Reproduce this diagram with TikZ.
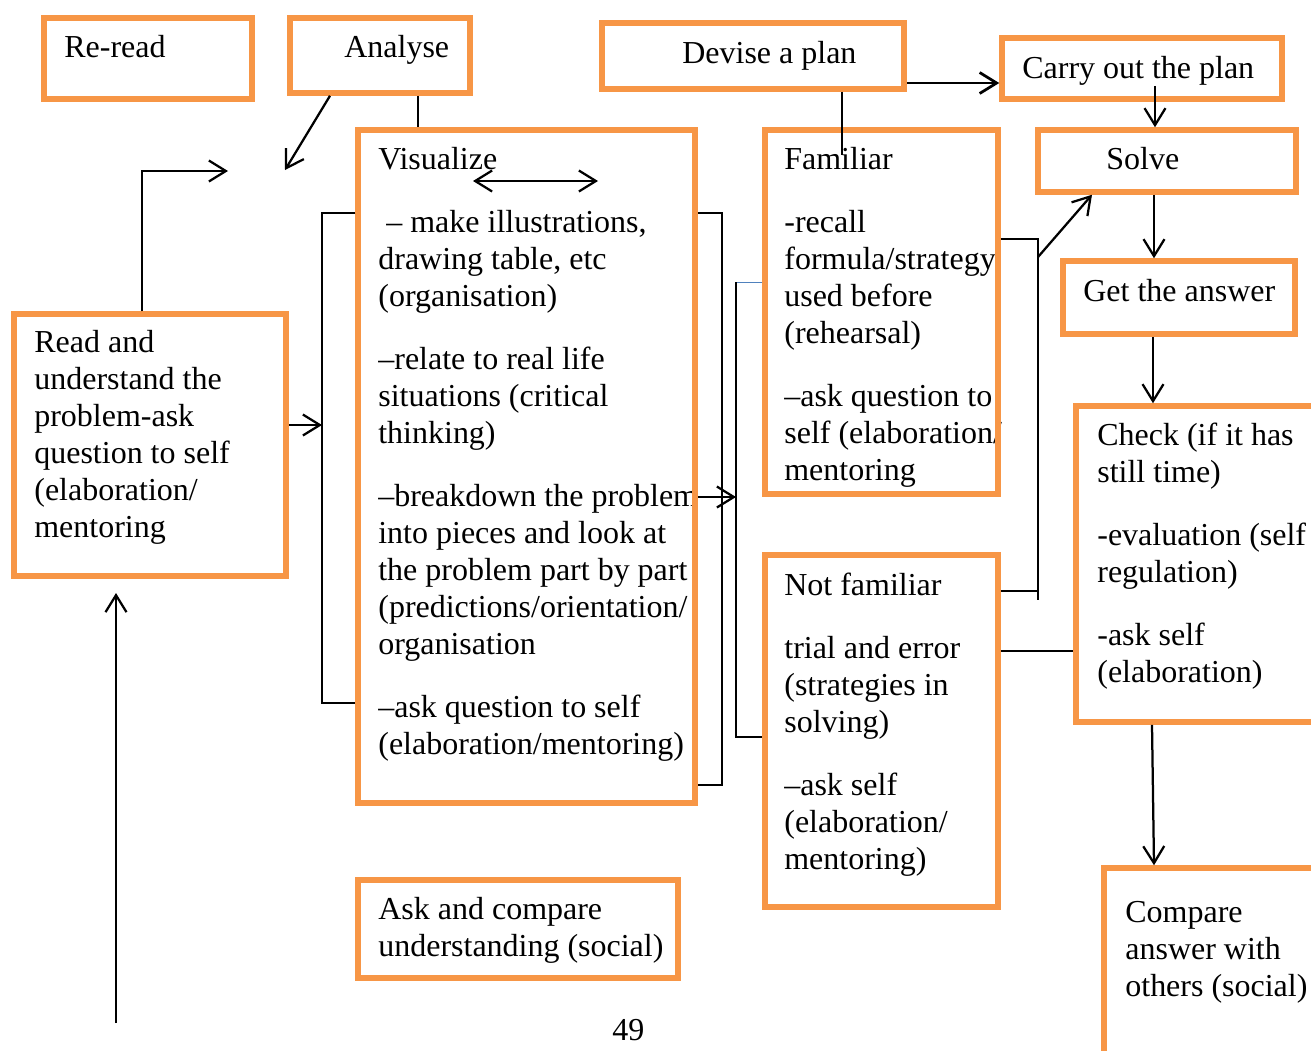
\documentclass[tikz,border=0pt]{standalone}
\usepackage{fontspec}
\setmainfont{Liberation Serif}
\usetikzlibrary{arrows.meta,fit}
\definecolor{boxorange}{HTML}{F79646}
\definecolor{linkblue}{HTML}{4F81BD}
\tikzset{
  box/.style={draw=boxorange,line width=1.1mm,inner sep=0pt},
  txt/.style={anchor=base west,align=left,inner sep=0pt},
  mtxt/.style={anchor=north west,align=left,inner sep=0pt},
  link/.style={line width=.3mm},
  arr/.style={line width=.45mm,-{Straight Barb[length=3.4mm,width=4.2mm]}},
  dblarr/.style={line width=.45mm,{Straight Barb[length=3.4mm,width=4.2mm]}-{Straight Barb[length=3.4mm,width=4.2mm]}},
}
\newcommand{\gap}{\\[0.52cm]}
\begin{document}
\begin{tikzpicture}[x=0.2mm,y=-0.2mm,font=\fontsize{18.2pt}{21.06pt}\selectfont]
\useasboundingbox (0,0) rectangle (1311,1050);
\clip (0,0) rectangle (1311,1050);

% texts
\node[txt] at (64,57) {Re-read};
\node[txt] at (344,57) {Analyse};
\node[txt] at (682,63) {Devise a plan};
\node[txt] at (1022,78) {Carry out the plan};
\node[txt] at (1106,169) {Solve};
\node[txt] at (1083,301) {Get the answer};
\node[mtxt] at (378,143) {\strut Visualize\gap
  ~– make illustrations,\\drawing table, etc\\(organisation)\gap
  –relate to real life\\situations (critical\\thinking)\gap
  –breakdown the problem\\into pieces and look at\\the problem part by part\\(predictions/orientation/\\organisation\gap
  –ask question to self\\(elaboration/mentoring)};
\node[mtxt] at (784,143) {\strut Familiar\gap
  -recall\\formula/strategy\\used before\\(rehearsal)\gap
  –ask question to\\self (elaboration/\\mentoring};
\node[mtxt] at (784,569) {\strut Not familiar\gap
  trial and error\\(strategies in\\solving)\gap
  –ask self\\(elaboration/\\mentoring)};
\node[mtxt] at (34,326) {\strut Read and\\understand the\\problem-ask\\question to self\\(elaboration/\\mentoring};
\node[mtxt] at (1097,419) {\strut Check (if it has\\still time)\gap
  -evaluation (self\\regulation)\gap
  -ask self\\(elaboration)};
\node[mtxt] at (378,893) {\strut Ask and compare\\understanding (social)};
\node[mtxt] at (1125,896) {\strut Compare\\answer with\\others (social)};
\node[txt] (page) at (612,1040) {49};

% boxes
\node[box,fit={(44,18)(252,99)}] (reread) {};
\node[box,fit={(290,18)(470,93)}] (analyse) {};
\node[box,fit={(602,23)(904,89)}] (devise) {};
\node[box,fit={(1002,38)(1282,99)}] (carry) {};
\node[box,fit={(1038,130)(1296,192)}] (solve) {};
\node[box,fit={(1063,261)(1295,334)}] (get) {};
\node[box,fit={(358,130)(695,803)}] (vis) {};
\node[box,fit={(765,130)(998,494)}] (fam) {};
\node[box,fit={(765,555)(998,907)}] (nfam) {};
\node[box,fit={(14,314)(286,576)}] (read) {};
\node[box,fit={(1076,406)(1330,722)}] (check) {};
\node[box,fit={(358,880)(678,978)}] (ask) {};
\node[box,fit={(1104,868)(1330,1080)}] (cmp) {};

\coordinate (gapA) at (285,170);
\coordinate (gapR) at (228,171);
\coordinate (dblL) at (473,181);
\coordinate (dblR) at (598,181);
\coordinate (brk) at (736,282);
\coordinate (up0) at (116,1023);
\coordinate (up1) at (116,593);

% connectors
\draw[link] (418,0 |- analyse.south) -- (418,0 |- vis.north);
\draw[arr] (330,0 |- analyse.south) -- (gapA);
\draw[arr] (142,0 |- read.north) |- (gapR);
\draw[dblarr] (dblL) -- (dblR);
\draw[link] (vis.west |- 0,213) -| (322,458) |- (vis.west |- 0,703);
\draw[arr] (read.east |- 0,425) -- (322,425);
\draw[link] (vis.east |- 0,213) -| (722,500) |- (vis.east |- 0,785);
\draw[arr] (vis.east |- 0,497) -- (736,497);
\draw[linkblue,line width=.2mm] (fam.west |- brk) -- (brk);
\draw[link] (brk) |- (nfam.west |- 0,737);
\draw[link] (842,0 |- devise.south) -- (842,155);
\draw[arr,line width=.55mm] (devise.east |- 0,83) -- (carry.west |- 0,83);
\draw[arr] (1155,0 |- carry.south) ++(0,-16) -- (1155,0 |- solve.north);
\draw[arr] (1154,0 |- solve.south) -- (1154,0 |- get.north);
\draw[arr] (1153,0 |- get.south) -- (1153,0 |- check.north);
\draw[arr] (1152,0 |- check.south) -- (1154,0 |- cmp.north);
\draw[link] (fam.east |- 0,239) -| (1038,600);
\draw[link] (nfam.east |- 0,591) -- (1038,591);
\draw[arr] (1038,257) -- (1092,0 |- solve.south);
\draw[link] (nfam.east |- 0,651) -- (check.west |- 0,651);
\draw[arr] (up0) -- (up1);
\end{tikzpicture}
\end{document}
